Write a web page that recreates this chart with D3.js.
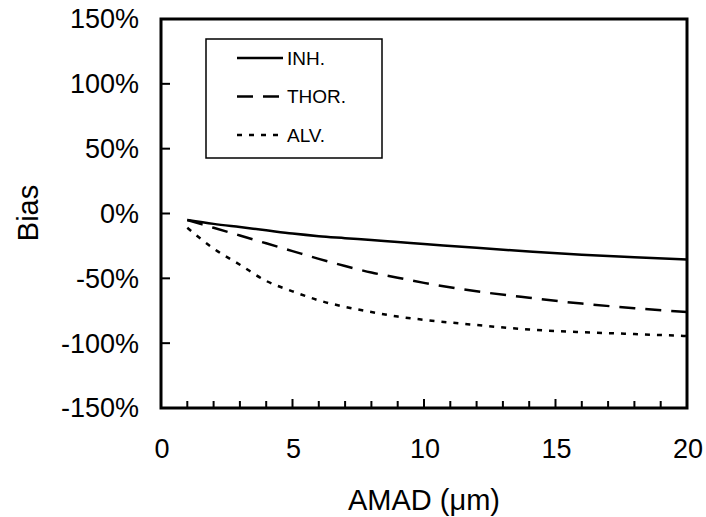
<!DOCTYPE html>
<head>
    <title>Bias vs AMAD</title>
    <script src="https://d3js.org/d3.v7.min.js"></script>
    <style>
        body {
            margin: 0;
            background-color: #ffffff;
        }
        text {
            font-family: "Liberation Sans", Arial, sans-serif;
            fill: #000;
        }
    </style>
</head>

<body>
    <svg></svg>

    <script type="text/javascript">
        // values (AMAD in um, bias in %)
        const amad = [1, 2, 3, 4, 5, 6, 7, 8, 9, 10, 12, 14, 16, 18, 20]
        const inh = [-5, -8, -10.5, -13, -15.5, -17.5, -19, -20.5, -22, -23.5, -26.5, -29.3, -31.8, -33.7, -35.4]
        const thor = [-5, -11, -17, -23, -29, -35, -40.5, -45.5, -49.5, -53.5, -60, -65, -69.5, -73, -76]
        const alv = [-11, -27, -39.5, -52, -60, -67, -72, -76, -79.5, -82, -86, -89.5, -91.5, -93, -94.5]
        const seriesNames = ['INH.', 'THOR.', 'ALV.']
        const xTicks = [0, 5, 10, 15, 20]
        const yTicks = [-150, -100, -50, 0, 50, 100, 150]

        const width = 706, height = 517
        const plotLeft = 161, plotRight = 687, plotTop = 19, plotBottom = 408

        let svg = d3.select('svg')
            .attr('width', width)
            .attr('height', height)

        let x = d3.scaleLinear().domain([0, 20]).range([plotLeft, plotRight])
        let y = d3.scaleLinear().domain([-150, 150]).range([plotBottom, plotTop])

        // frame
        svg.append('rect')
            .attr('x', plotLeft).attr('y', plotTop)
            .attr('width', plotRight - plotLeft).attr('height', plotBottom - plotTop)
            .attr('fill', 'none').attr('stroke', '#000').attr('stroke-width', 3)

        // y ticks (inside)
        svg.append('g').selectAll('line')
            .data(yTicks.slice(1, -1))
            .enter().append('line')
            .attr('x1', plotLeft).attr('x2', plotLeft + 9)
            .attr('y1', d => y(d)).attr('y2', d => y(d))
            .attr('stroke', '#000').attr('stroke-width', 2)

        svg.append('g').selectAll('text')
            .data(yTicks)
            .enter().append('text')
            .attr('x', plotLeft - 22)
            .attr('y', d => y(d))
            .attr('dy', '0.35em')
            .attr('text-anchor', 'end')
            .style('font-size', '27px')
            .text(d => d + '%')

        // x ticks (inside), minor every 1, major every 5
        svg.append('g').selectAll('line')
            .data(d3.range(1, 20))
            .enter().append('line')
            .attr('x1', d => x(d)).attr('x2', d => x(d))
            .attr('y1', plotBottom).attr('y2', d => d % 5 == 0 ? plotBottom - 9 : plotBottom - 7)
            .attr('stroke', '#000').attr('stroke-width', 2)

        svg.append('g').selectAll('text')
            .data(xTicks)
            .enter().append('text')
            .attr('x', d => x(d) + 1)
            .attr('y', 458)
            .attr('text-anchor', 'middle')
            .style('font-size', '27px')
            .text(d => d)

        // axis titles
        svg.append('text')
            .attr('x', 424).attr('y', 510)
            .attr('text-anchor', 'middle')
            .style('font-size', '29px')
            .text('AMAD (μm)')

        svg.append('text')
            .attr('transform', 'translate(38,213) rotate(-90)')
            .attr('text-anchor', 'middle')
            .style('font-size', '29px')
            .text('Bias')

        // lines
        const dashes = ['none', '16,10', '5,7']
        let series = [inh, thor, alv]
        let line = d3.line()
            .x((d, i) => x(amad[i]))
            .y(d => y(d))
            .curve(d3.curveMonotoneX)

        svg.append('g').selectAll('path')
            .data(series)
            .enter().append('path')
            .attr('d', d => line(d))
            .attr('fill', 'none')
            .attr('stroke', '#000')
            .attr('stroke-width', 2.5)
            .attr('stroke-dasharray', (d, i) => dashes[i])

        // legend
        let legend = svg.append('g')
        legend.append('rect')
            .attr('x', 206).attr('y', 39)
            .attr('width', 176).attr('height', 119)
            .attr('fill', '#fff').attr('stroke', '#000').attr('stroke-width', 1.5)

        let items = legend.selectAll('g.item')
            .data(seriesNames)
            .enter().append('g')
            .attr('class', 'item')
            .attr('transform', (d, i) => 'translate(0,' + (58 + i * 38.5) + ')')
        items.append('line')
            .attr('x1', 237).attr('x2', 283)
            .attr('y1', 0).attr('y2', 0)
            .attr('stroke', '#000').attr('stroke-width', 2.5)
            .attr('stroke-dasharray', (d, i) => dashes[i])
        items.append('text')
            .attr('x', 287).attr('dy', '0.35em')
            .style('font-size', '19px')
            .text(d => d)
    </script>
</body>
